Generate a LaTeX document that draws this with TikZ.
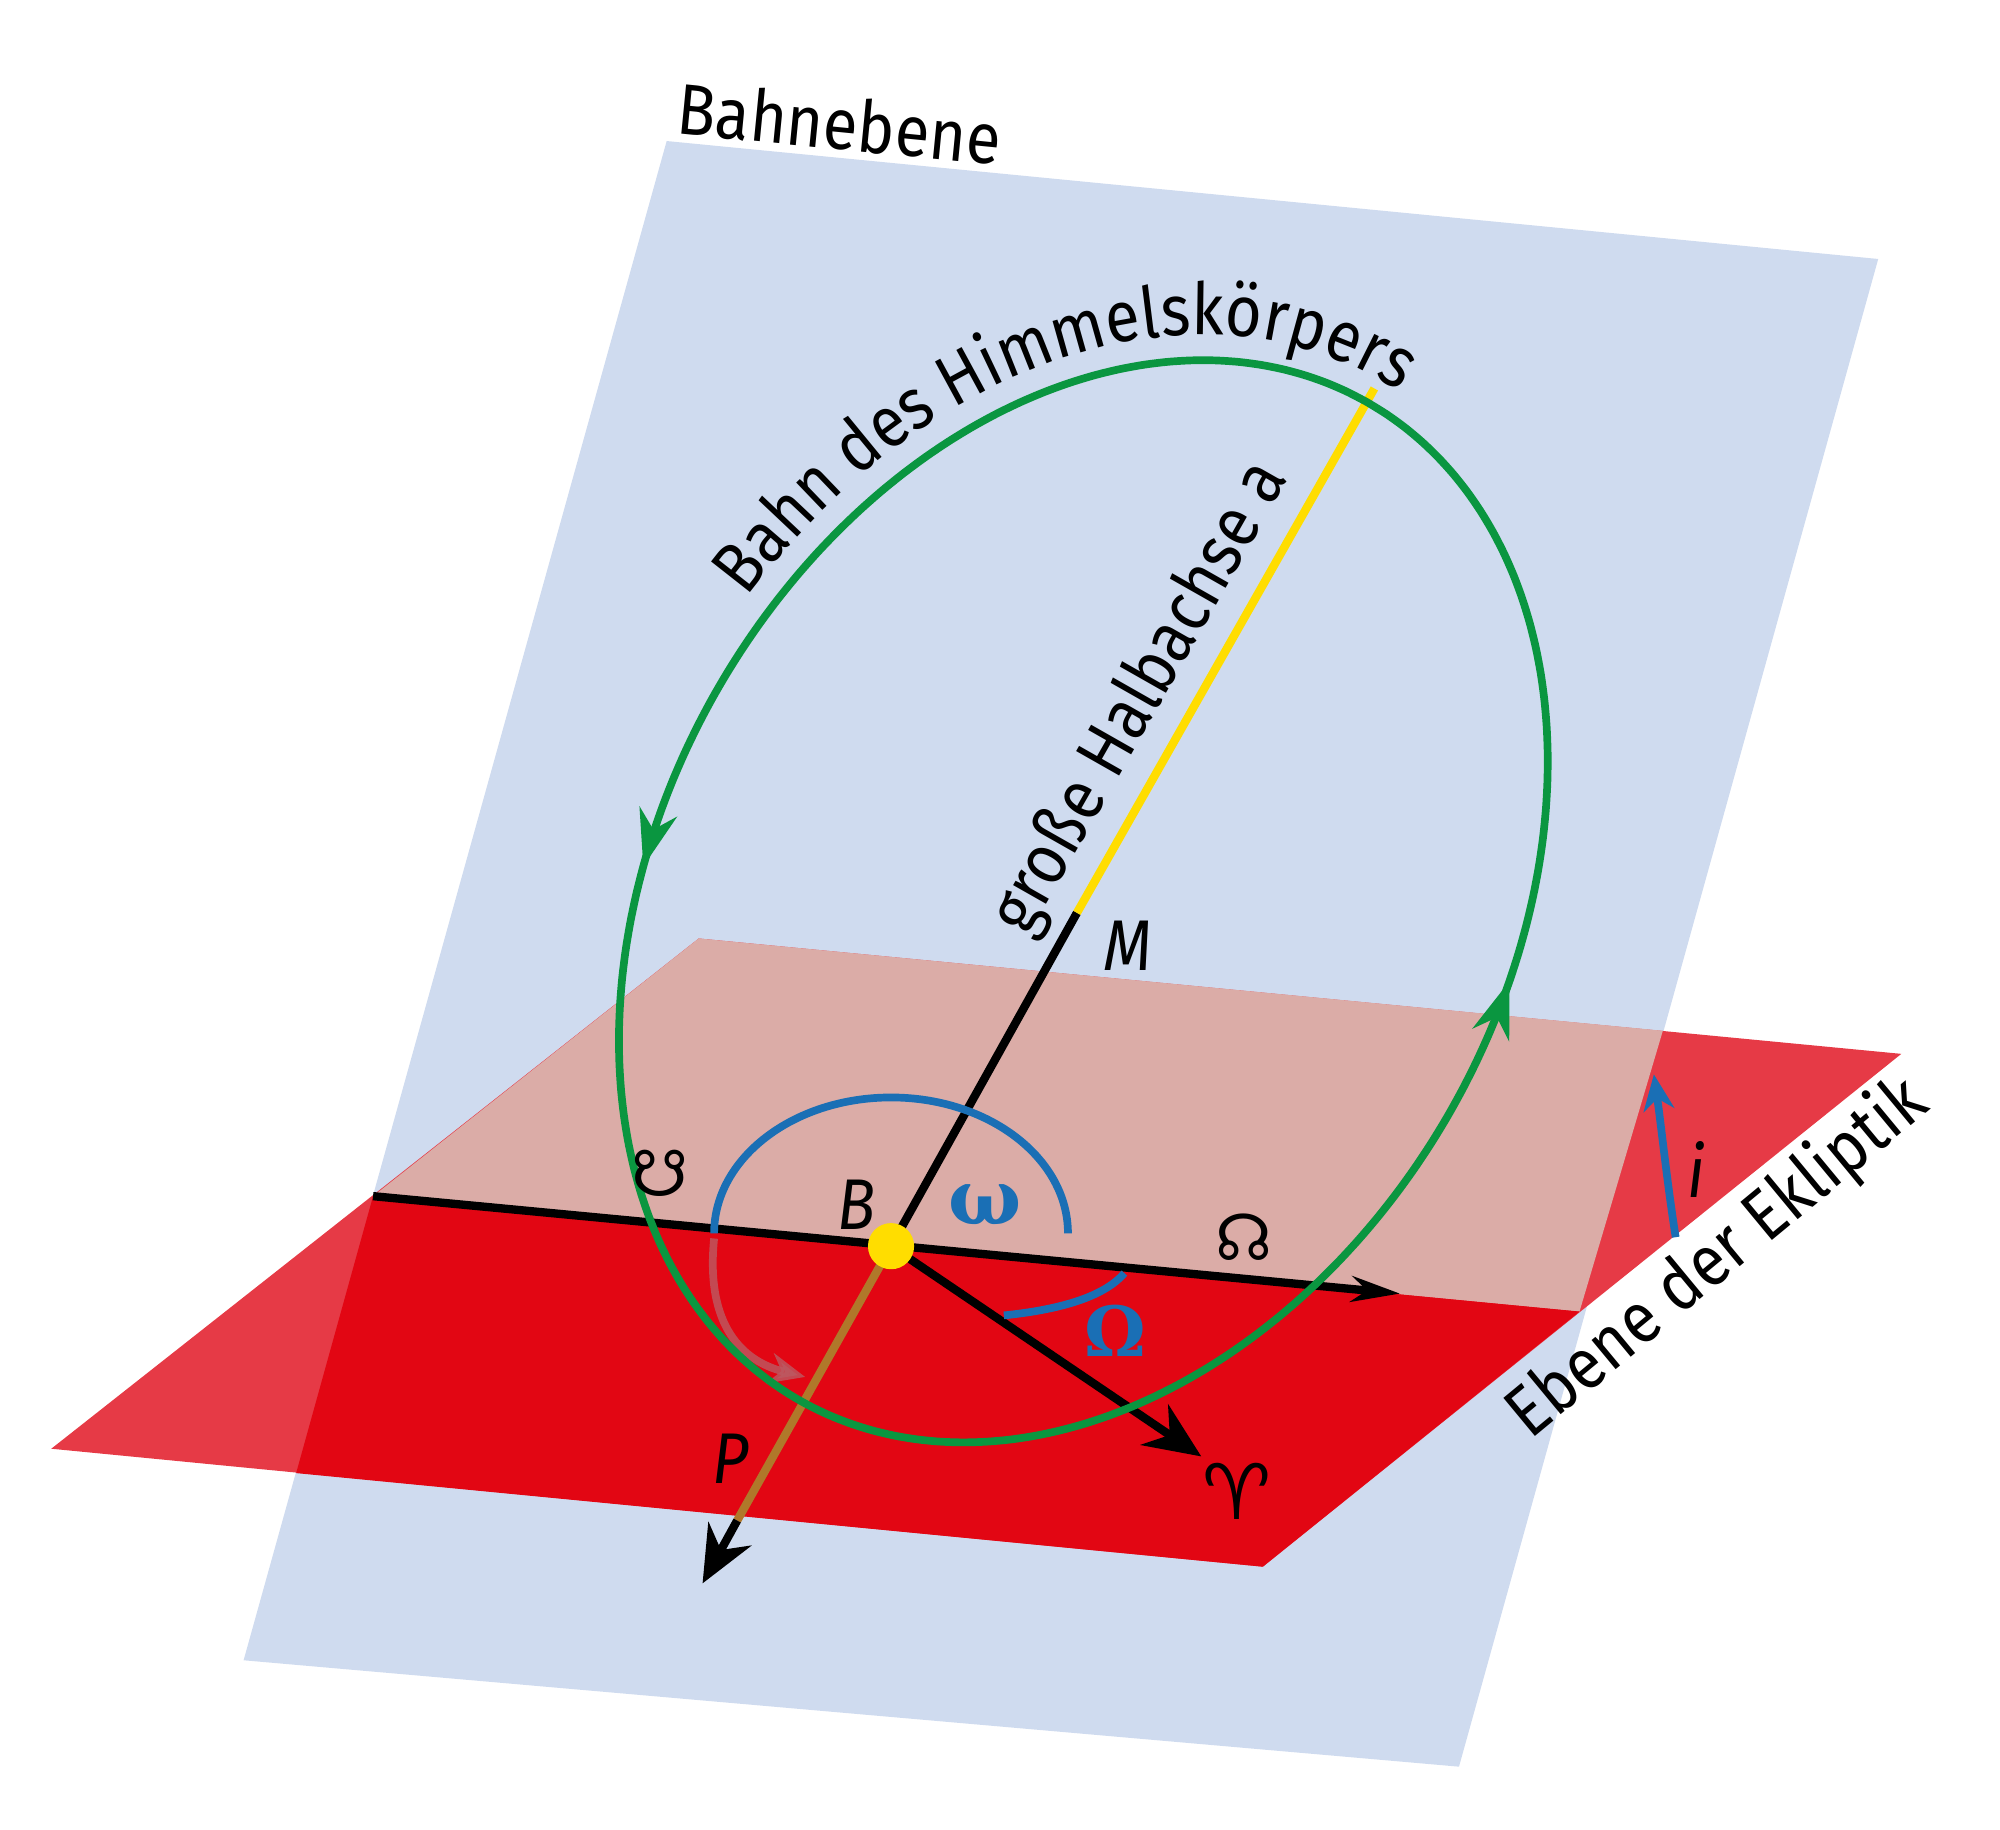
\documentclass[tikz,border=0pt]{standalone}
\usepackage{fontspec}
\setmainfont{Fira Sans}[FakeStretch=0.88]
\newfontfamily\symfont{DejaVu Sans}
\newfontfamily\grkfont{DejaVu Serif}
\usetikzlibrary{arrows.meta,positioning,decorations.markings,decorations.text}
\definecolor{planeblue}{HTML}{CFDBEF}
\definecolor{eclred}{HTML}{E63A46}
\definecolor{eclback}{HTML}{DBACA7}
\definecolor{eclfront}{HTML}{E20613}
\definecolor{orbitgreen}{HTML}{0A9640}
\definecolor{angleblue}{HTML}{1A6FB5}
\definecolor{focusyellow}{HTML}{FFDD00}
\definecolor{axisbrown}{HTML}{B0782A}
\definecolor{turnred}{HTML}{BC5A62}

\begin{document}
\begin{tikzpicture}[x=1pt, y=-1pt, font=\fontsize{56}{62}\selectfont]

% Define styles
\tikzstyle{label} = [inner sep=0pt]
\tikzstyle{axis} = [line width=6.5pt]
\tikzstyle{bigarrow} = [axis, -{Stealth[length=44pt,width=38pt]}]
\tikzstyle{smallarrow} = [-{Stealth[length=28pt,width=24pt]}]
\tikzstyle{anglearc} = [angleblue, line width=6pt]

\useasboundingbox (0,0) rectangle (1560,1427);

% Planes
\fill [planeblue] (520,110) -- (1465,202) -- (1138,1378) -- (190,1295) -- cycle;
\fill [eclred] (545,732) -- (1483,822) -- (985,1222) -- (40,1130) -- cycle;
\fill [eclback] (291,933) -- (545,732) -- (1297,804) -- (1232,1023) -- cycle;
\fill [eclfront] (291,933) -- (1232,1023) -- (985,1222) -- (231,1149) -- cycle;

% Points
\coordinate (nodeL) at (291,933);
\coordinate (nodeR) at (1092,1009);
\coordinate (B) at (695,972);
\coordinate (M) at (840,712);
\coordinate (apo) at (1072,303);
\coordinate (Pbrown) at (575,1186);
\coordinate (Ptip) at (548,1235);
\coordinate (aries) at (937,1136);

% Line of nodes and axes
\draw [axis, -{Stealth[length=38pt,width=20pt]}] (nodeL) -- (nodeR);
\draw [axis, axisbrown] (B) -- (Pbrown);
\draw [bigarrow] (Pbrown) -- (Ptip);
\draw [bigarrow] (B) -- (aries);
\draw [axis] (B) -- (M);
\draw [axis, focusyellow] (M) -- (apo);

% Angles
\draw [anglearc] (557,962) arc [start angle=180, end angle=360, x radius=138, y radius=106];
\draw [anglearc] (877,993) .. controls (860,1013) and (822,1022) .. (783,1026);
\draw [turnred, line width=6pt, opacity=0.8, smallarrow] (557,966) .. controls (550,1035) and (580,1062) .. (628,1074);
\draw [angleblue, line width=6pt, smallarrow] (1307,965) .. controls (1300,920) and (1296,880) .. (1290,838);

% Orbit
\draw [orbitgreen, line width=6pt,
  postaction={decorate},
  decoration={markings,
    mark=at position 0.31 with {\arrow{Stealth[length=44pt,width=30pt]}},
    mark=at position 0.795 with {\arrow{Stealth[length=44pt,width=30pt]}}}]
  plot [domain=360:0, samples=120, smooth]
  ({845 + 448*cos(\x)*0.494 + 330*sin(\x)*0.869},
   {703 - 448*cos(\x)*0.869 + 330*sin(\x)*0.494});
\path [decorate, decoration={text along path, text align=center,
    text={|\fontsize{56}{62}\selectfont|Bahn des Himmelskörpers}}]
  plot [domain=268:378, samples=60, smooth]
  ({845 + 468*cos(\x)*0.494 + 350*sin(\x)*0.869},
   {703 - 468*cos(\x)*0.869 + 350*sin(\x)*0.494});

% Focus
\fill [focusyellow] (B) circle [radius=18];

% Labels
\node [label, rotate=-5.6] (plane) at (655,96) {Bahnebene};
\node [label, rotate=60.4] (semi) at (890,545) {große Halbachse a};
\node [label, rotate=39.6] (eclip) at (1340,982) {Ebene der Ekliptik};
\node [label] (Mlab) at (880,738) {\itshape M};
\node [label] (Blab) at (668,940) {\itshape B};
\node [label] (Plab) at (570,1138) {\itshape P};
\node [label] (ilab) at (1323,912) {\itshape i};
\node [label, font=\fontsize{50}{56}\selectfont] (desc) at (515,915) {\symfont ☋};
\node [label, font=\fontsize{50}{56}\selectfont] (asc) at (970,965) {\symfont ☊};
\node [label, font=\fontsize{60}{66}\selectfont] (arlab) at (965,1163) {\symfont\bfseries ♈};
\node [label, angleblue, font=\fontsize{60}{66}\selectfont] (omlab) at (768,940) {\grkfont\bfseries ω};
\node [label, angleblue, font=\fontsize{54}{60}\selectfont] (Omlab) at (870,1038) {\grkfont\bfseries Ω};

\end{tikzpicture}
\end{document}
